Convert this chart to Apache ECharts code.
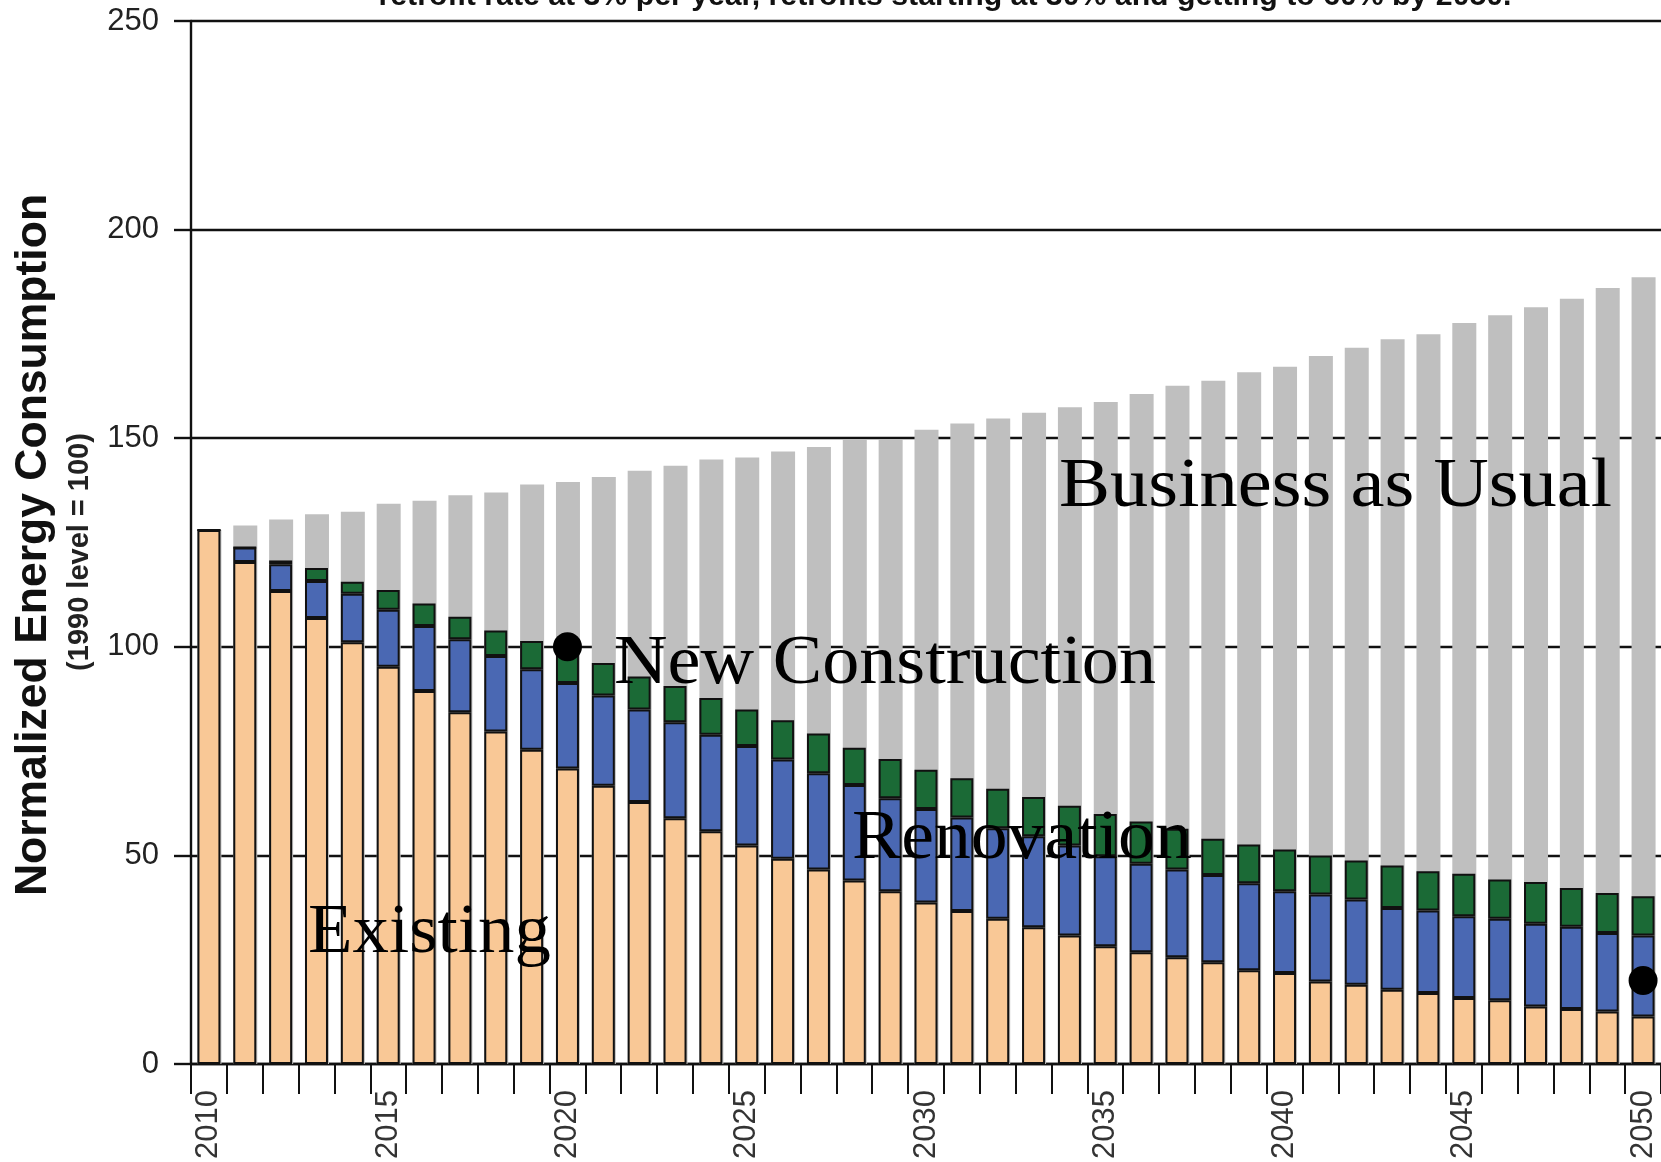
<!DOCTYPE html>
<html>
<head>
<meta charset="utf-8">
<script src="https://cdn.jsdelivr.net/npm/echarts@6/dist/echarts.min.js"></script>
<style>
html,body{margin:0;padding:0;background:#fff;}
#chart{width:1661px;height:1162px;}
</style>
</head>
<body>
<div id="chart"></div>
<script>
const years = ['2010','2011','2012','2013','2014','2015','2016','2017','2018','2019',
  '2020','2021','2022','2023','2024','2025','2026','2027','2028','2029',
  '2030','2031','2032','2033','2034','2035','2036','2037','2038','2039',
  '2040','2041','2042','2043','2044','2045','2046','2047','2048','2049','2050'];

// Existing building stock (bottom segment)
const existing = [128.0,120.3,113.4,106.9,101.1,95.2,89.4,84.3,79.7,75.3,
  70.8,66.7,62.8,58.9,55.8,52.4,49.2,46.6,44.0,41.4,
  38.7,36.7,34.8,32.8,30.8,28.2,26.8,25.6,24.4,22.5,
  21.8,19.8,19.0,17.8,17.0,15.8,15.3,13.8,13.2,12.6,11.4];

// Renovation (middle segment)
const renovation = [0,3.5,6.4,8.9,11.6,13.7,15.6,17.5,18.1,19.3,
  20.5,21.6,22.2,23.0,23.1,23.8,23.8,23.1,22.9,22.3,
  22.4,22.4,21.7,21.8,21.6,21.6,21.2,21.0,20.9,20.8,
  19.6,20.8,20.4,19.6,19.8,19.6,19.5,19.8,19.7,18.8,19.4];

// New construction (top segment)
const newConstruction = [0,0,0.9,3.1,2.9,4.7,5.4,5.4,6.1,6.8,
  7.3,7.8,7.9,8.7,8.8,8.8,9.4,9.5,8.9,9.4,
  9.4,9.4,9.5,9.4,9.5,10.1,10.1,9.8,8.7,9.3,
  10.0,9.4,9.4,10.2,9.4,10.2,9.4,10.0,9.3,9.6,9.4];

// Business as usual (grey background bars)
const businessAsUsual = [128.0,129.1,130.5,131.8,132.4,134.3,135.0,136.3,137.0,138.9,
  139.5,140.7,142.2,143.4,144.9,145.4,146.8,147.9,149.7,149.8,
  152.0,153.5,154.7,156.1,157.4,158.7,160.6,162.6,163.8,165.8,
  167.1,169.7,171.7,173.7,174.9,177.6,179.5,181.4,183.4,186.0,188.6];

// Target points
const targets = [['2020',100],['2050',20]];

const yMin = 0, yMax = 250, yStep = 50;

const titleText = 'retrofit rate at 3% per year, retrofits starting at 30% and getting to 60% by 2050.';
const yTitle = 'Normalized Energy Consumption';
const ySubTitle = '(1990 level = 100)';
const annotations = ['Business as Usual','New Construction','Renovation','Existing'];

// fit the clipped title width
const cv = document.createElement('canvas').getContext('2d');
cv.font = 'bold 30px "Liberation Sans", Arial, sans-serif';
const titleFs = 30 * 1133 / cv.measureText(titleText).width;

const chart = echarts.init(document.getElementById('chart'), null, {renderer:'canvas'});

const borderStyle = {borderColor:'#111', borderWidth:2};
const BW = 23;

const serifFont = '70px "Liberation Serif", "Times New Roman", serif';
function ann(text, x, yMid, sx){
  return {type:'text', x:x, y:yMid, scaleX:sx, z:100,
    style:{text:text, font:serifFont, fill:'#000', align:'left', textAlign:'left',
      verticalAlign:'middle', textVerticalAlign:'middle'}};
}

chart.setOption({
  animation:false,
  backgroundColor:'#fff',
  grid:{left:191, top:21, width:1480, bottom:98, containLabel:false},
  xAxis:{
    type:'category', data:years, boundaryGap:true,
    axisLine:{show:true, lineStyle:{color:'#111', width:2.4}},
    axisTick:{show:true, alignWithLabel:false, interval:0, length:30, lineStyle:{color:'#111', width:2}},
    axisLabel:{interval:4, rotate:90, fontSize:31, color:'#333', margin:26,
      fontFamily:'"Liberation Sans", Arial, sans-serif'},
    splitLine:{show:false}
  },
  yAxis:{
    type:'value', min:yMin, max:yMax, interval:yStep,
    axisLine:{show:true, lineStyle:{color:'#111', width:2.4}},
    axisTick:{show:true, length:17, lineStyle:{color:'#111', width:2.4}},
    axisLabel:{fontSize:31, color:'#222', margin:32, fontFamily:'"Liberation Sans", Arial, sans-serif'},
    splitLine:{show:true, lineStyle:{color:'#111', width:2.4}}
  },
  series:[
    {name:'Business as Usual', type:'bar', data:businessAsUsual, barWidth:BW+1, barGap:'-100%',
      itemStyle:{color:'#BFBFBF'}, z:2},
    {name:'Existing', type:'bar', stack:'s', data:existing, barWidth:BW, barGap:'-100%',
      itemStyle:Object.assign({color:'#F9C896'}, borderStyle), z:3},
    {name:'Renovation', type:'bar', stack:'s', data:renovation, barWidth:BW, barGap:'-100%',
      itemStyle:Object.assign({color:'#4A68B3'}, borderStyle), z:3},
    {name:'New Construction', type:'bar', stack:'s', data:newConstruction, barWidth:BW, barGap:'-100%',
      itemStyle:Object.assign({color:'#1B6A36'}, borderStyle), z:3},
    {name:'Target', type:'scatter', data:targets, symbol:'circle', symbolSize:29,
      itemStyle:{color:'#000', opacity:1}, z:10}
  ],
  graphic:[
    {type:'text', x:945, y:7.3 - 0.3465*titleFs, z:100,
      style:{text:titleText, font:'bold '+titleFs.toFixed(2)+'px "Liberation Sans", Arial, sans-serif',
        fill:'#111', align:'center', textAlign:'center', verticalAlign:'middle', textVerticalAlign:'middle'}},
    {type:'text', x:34, y:545, rotation:Math.PI/2, z:100,
      style:{text:yTitle, font:'bold 44.5px "Liberation Sans", Arial, sans-serif', fill:'#111',
        align:'center', textAlign:'center', verticalAlign:'middle', textVerticalAlign:'middle'}},
    {type:'text', x:80, y:552, rotation:Math.PI/2, z:100,
      style:{text:ySubTitle, font:'bold 29px "Liberation Sans", Arial, sans-serif', fill:'#222',
        align:'center', textAlign:'center', verticalAlign:'middle', textVerticalAlign:'middle'}},
    ann(annotations[0], 1059, 488, 1.094),
    ann(annotations[1], 614, 665, 1.06),
    ann(annotations[2], 852, 840, 1.053),
    ann(annotations[3], 308, 934, 1.041)
  ]
});
</script>
</body>
</html>
